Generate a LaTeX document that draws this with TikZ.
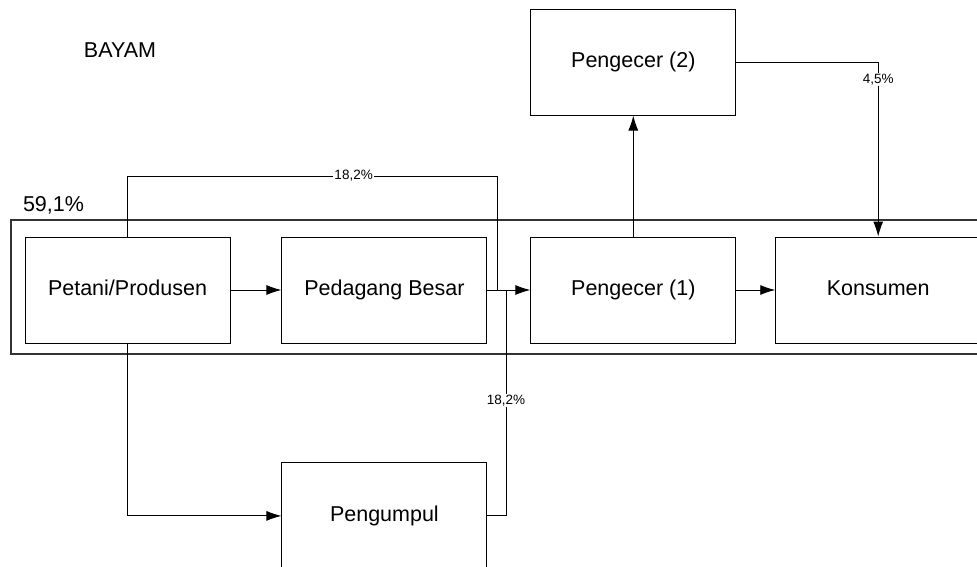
\documentclass[tikz,border=0pt]{standalone}
\usepackage{fontspec}
\setmainfont{Liberation Sans}
\usepackage{tikz}
\usetikzlibrary{positioning,calc,arrows.meta}

\begin{document}
\begin{tikzpicture}[x=1pt, y=-1pt, >={Latex[length=15pt,width=10pt]}, line width=0.9pt,
    blok/.style={draw, rectangle, minimum width=205pt, minimum height=106pt, inner sep=0pt, text height=15.5pt, text depth=4.5pt, font=\fontsize{21.5}{26}\selectfont},
    persen/.style={fill=white, inner sep=1pt, font=\fontsize{13.5}{16}\selectfont},
    bingkai/.style={draw=black!80, line width=1.6pt}]
    \useasboundingbox (0,0) rectangle (977,567);

    \node [font=\fontsize{21.5}{26}\selectfont] (judul) at (120,50) {BAYAM};
    \node [font=\fontsize{21.5}{26}\selectfont] (pangsa) at (53.5,205) {59,1\%};
    \draw [bingkai] (11,220) rectangle (995,354);

    \node [blok] (petani) at (127.5,290) {Petani/Produsen};
    \node [blok, right=51pt of petani] (pedagang) {Pedagang Besar};
    \node [blok, right=43pt of pedagang] (pengecer1) {Pengecer (1)};
    \node [blok, right=39pt of pengecer1] (konsumen) {Konsumen};
    \node [blok, above=121pt of pengecer1] (pengecer2) {Pengecer (2)};
    \node [blok, below=119pt of pedagang] (pengumpul) {Pengumpul};

    \coordinate (atas) at (497,176);
    \coordinate (temu1) at (497,290);
    \coordinate (temu2) at (506,290);

    \draw [->] (petani) -- (pedagang);
    \draw [->] (pedagang) -- (pengecer1);
    \draw [->] (pengecer1) -- (konsumen);
    \draw [->] (pengecer1) -- (pengecer2);
    \draw (petani.north) |- node [persen, pos=0.806] {18,2\%} (atas) -- (temu1);
    \draw (pengumpul.east) -| node [persen, pos=0.756] {18,2\%} (temu2);
    \draw [->] (petani.south) |- (pengumpul.west);
    \draw [->] (pengecer2.east) -| node [persen, pos=0.55] {4,5\%} (konsumen.north);
\end{tikzpicture}
\end{document}
